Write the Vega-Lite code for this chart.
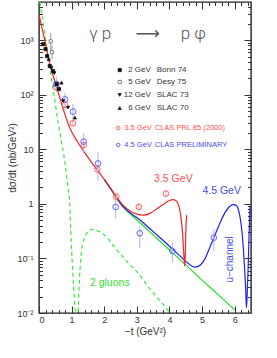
{
"$schema":"https://vega.github.io/schema/vega-lite/v6.json",
"width":212,"height":311,
"autosize":{"type":"none"},
"padding":{"left":39,"top":2,"right":26,"bottom":45},
"background":"white",
"config":{"view":{"stroke":"#222","strokeWidth":1.4},"axis":{"labelFont":"Liberation Sans","titleFont":"Liberation Sans","labelColor":"#333","titleColor":"#333","tickColor":"#333","labelFontSize":9,"titleFontSize":10,"titleFontWeight":"normal","grid":false,"domain":false}},
"datasets":{
"curves":[
{"s":"red","t":0,"v":2950},{"s":"red","t":0.1,"v":1585},{"s":"red","t":0.2,"v":850},{"s":"red","t":0.3,"v":436},{"s":"red","t":0.4,"v":263},{"s":"red","t":0.5,"v":166},{"s":"red","t":0.6,"v":105},{"s":"red","t":0.7,"v":66},{"s":"red","t":0.8,"v":42.7},{"s":"red","t":0.9,"v":28.8},{"s":"red","t":1.0,"v":20.9},{"s":"red","t":1.2,"v":13.2},{"s":"red","t":1.4,"v":8.7},{"s":"red","t":1.6,"v":5.9},{"s":"red","t":1.8,"v":4.07},{"s":"red","t":2.0,"v":2.82},{"s":"red","t":2.2,"v":1.9},{"s":"red","t":2.4,"v":1.28},{"s":"red","t":2.6,"v":0.92},{"s":"red","t":2.8,"v":0.74},{"s":"red","t":3.0,"v":0.65},{"s":"red","t":3.2,"v":0.62},{"s":"red","t":3.4,"v":0.67},{"s":"red","t":3.6,"v":0.8},{"s":"red","t":3.8,"v":0.97},{"s":"red","t":4.0,"v":1.15},{"s":"red","t":4.1,"v":1.2},{"s":"red","t":4.2,"v":1.14},{"s":"red","t":4.28,"v":0.95},{"s":"red","t":4.34,"v":0.65},{"s":"red","t":4.4,"v":0.3},{"s":"red","t":4.44,"v":0.12},{"s":"red","t":4.47,"v":0.072},{"s":"red","t":4.49,"v":0.15},{"s":"red","t":4.51,"v":0.45},{"s":"red","t":4.53,"v":0.62},
{"s":"blue","t":2.0,"v":2.82},{"s":"blue","t":2.2,"v":1.9},{"s":"blue","t":2.4,"v":1.24},{"s":"blue","t":2.6,"v":0.86},{"s":"blue","t":2.8,"v":0.68},{"s":"blue","t":3.0,"v":0.56},{"s":"blue","t":3.2,"v":0.45},{"s":"blue","t":3.4,"v":0.35},{"s":"blue","t":3.6,"v":0.275},{"s":"blue","t":3.8,"v":0.215},{"s":"blue","t":4.0,"v":0.167},{"s":"blue","t":4.2,"v":0.13},{"s":"blue","t":4.4,"v":0.1},{"s":"blue","t":4.6,"v":0.079},{"s":"blue","t":4.78,"v":0.069},{"s":"blue","t":4.95,"v":0.076},{"s":"blue","t":5.08,"v":0.096},{"s":"blue","t":5.2,"v":0.14},{"s":"blue","t":5.36,"v":0.24},{"s":"blue","t":5.5,"v":0.38},{"s":"blue","t":5.64,"v":0.59},{"s":"blue","t":5.8,"v":0.84},{"s":"blue","t":5.95,"v":0.97},{"s":"blue","t":6.05,"v":0.93},{"s":"blue","t":6.12,"v":0.76},{"s":"blue","t":6.18,"v":0.5},{"s":"blue","t":6.23,"v":0.28},{"s":"blue","t":6.27,"v":0.14},{"s":"blue","t":6.31,"v":0.055},{"s":"blue","t":6.34,"v":0.025},{"s":"blue","t":6.36,"v":0.0125},{"s":"blue","t":6.38,"v":0.02},{"s":"blue","t":6.41,"v":0.06},{"s":"blue","t":6.44,"v":0.25},{"s":"blue","t":6.47,"v":0.9},
{"s":"green","t":2.0,"v":2.75},{"s":"green","t":2.2,"v":1.85},{"s":"green","t":2.4,"v":1.2},{"s":"green","t":2.63,"v":0.81},{"s":"green","t":3.0,"v":0.51},{"s":"green","t":3.5,"v":0.27},{"s":"green","t":4.0,"v":0.143},{"s":"green","t":4.5,"v":0.076},{"s":"green","t":5.0,"v":0.04},{"s":"green","t":5.5,"v":0.0215},{"s":"green","t":6.0,"v":0.0114}
],
"dashed":[
{"lobe":1,"t":0.03,"v":5000},{"lobe":1,"t":0.2,"v":1050},{"lobe":1,"t":0.35,"v":263},{"lobe":1,"t":0.5,"v":68},{"lobe":1,"t":0.58,"v":33},{"lobe":1,"t":0.7,"v":12.6},{"lobe":1,"t":0.8,"v":5.5},{"lobe":1,"t":0.88,"v":2.2},{"lobe":1,"t":0.94,"v":1.05},{"lobe":1,"t":0.99,"v":0.19},{"lobe":1,"t":1.04,"v":0.05},{"lobe":1,"t":1.08,"v":0.02},{"lobe":1,"t":1.12,"v":0.01},
{"lobe":2,"t":1.2,"v":0.0105},{"lobe":2,"t":1.24,"v":0.04},{"lobe":2,"t":1.3,"v":0.13},{"lobe":2,"t":1.4,"v":0.24},{"lobe":2,"t":1.5,"v":0.31},{"lobe":2,"t":1.65,"v":0.34},{"lobe":2,"t":1.8,"v":0.32},{"lobe":2,"t":2.0,"v":0.27},{"lobe":2,"t":2.17,"v":0.21},{"lobe":2,"t":2.32,"v":0.16},{"lobe":2,"t":2.5,"v":0.12},{"lobe":2,"t":2.78,"v":0.077},{"lobe":2,"t":3.04,"v":0.054},{"lobe":2,"t":3.3,"v":0.033},{"lobe":2,"t":3.6,"v":0.02},{"lobe":2,"t":3.8,"v":0.0145},{"lobe":2,"t":4.01,"v":0.0102}
],
"clas":[
{"exp":"3.5","t":0.53,"v":138,"lo":120,"hi":158},{"exp":"3.5","t":0.8,"v":65,"lo":57,"hi":74},{"exp":"3.5","t":1.04,"v":30,"lo":26,"hi":34},{"exp":"3.5","t":1.37,"v":12,"lo":10.5,"hi":13.7},{"exp":"3.5","t":1.79,"v":4.3,"lo":3.7,"hi":5.0},{"exp":"3.5","t":2.37,"v":1.35,"lo":1.15,"hi":1.6},{"exp":"3.5","t":3.06,"v":0.88,"lo":0.75,"hi":1.03},{"exp":"3.5","t":3.89,"v":1.54,"lo":1.3,"hi":1.8},
{"exp":"4.5","t":0.53,"v":157,"lo":110,"hi":215},{"exp":"4.5","t":0.8,"v":82,"lo":51,"hi":110},{"exp":"4.5","t":1.04,"v":49,"lo":31,"hi":68},{"exp":"4.5","t":1.37,"v":13.8,"lo":8.4,"hi":19.6},{"exp":"4.5","t":1.81,"v":5.5,"lo":2.6,"hi":9.0},{"exp":"4.5","t":2.35,"v":0.88,"lo":0.55,"hi":1.29},{"exp":"4.5","t":3.09,"v":0.29,"lo":0.157,"hi":0.39},{"exp":"4.5","t":4.09,"v":0.136,"lo":0.083,"hi":0.194},{"exp":"4.5","t":5.36,"v":0.24,"lo":0.136,"hi":0.34}
],
"old":[
{"exp":"Bonn 74","t":0.13,"v":845},{"exp":"Bonn 74","t":0.2,"v":684},{"exp":"Bonn 74","t":0.25,"v":509},{"exp":"Bonn 74","t":0.33,"v":335},{"exp":"Bonn 74","t":0.43,"v":271},{"exp":"Bonn 74","t":0.54,"v":157},{"exp":"Bonn 74","t":0.61,"v":127},
{"exp":"Desy 75","t":0.36,"v":950,"lo":600,"hi":1350},{"exp":"Desy 75","t":0.4,"v":600,"lo":450,"hi":800},
{"exp":"SLAC 73","t":0.38,"v":308},{"exp":"SLAC 73","t":0.47,"v":249},{"exp":"SLAC 73","t":0.74,"v":77},{"exp":"SLAC 73","t":0.89,"v":58},
{"exp":"SLAC 70","t":0.3,"v":450},{"exp":"SLAC 70","t":0.69,"v":166},{"exp":"SLAC 70","t":1.1,"v":38}
],
"legend":[
{"exp":"Bonn 74","t":2.475,"v":283},{"exp":"Desy 75","t":2.475,"v":171},{"exp":"SLAC 73","t":2.475,"v":99},{"exp":"SLAC 70","t":2.475,"v":57}
]
},
"resolve":{"axis":{"x":"independent","y":"independent"}},
"encoding":{
"x":{"field":"t","type":"quantitative","scale":{"domain":[0,6.5],"nice":false,"zero":false},"axis":null},
"y":{"field":"v","type":"quantitative","scale":{"type":"log","domain":[0.01,5000],"nice":false},"axis":null}
},
"layer":[
{"data":{"name":"dashed"},"mark":{"type":"line","color":"#3de83d","strokeWidth":1.2,"strokeDash":[4,3],"interpolate":"monotone","clip":true},
"encoding":{
"x":{"field":"t","type":"quantitative","scale":{"domain":[0,6.5],"nice":false,"zero":false},"axis":{"orient":"bottom","values":[0.2,0.4,0.6,0.8,1.2,1.4,1.6,1.8,2.2,2.4,2.6,2.8,3.2,3.4,3.6,3.8,4.2,4.4,4.6,4.8,5.2,5.4,5.6,5.8,6.2,6.4],"tickSize":-3.5,"labels":false,"title":null}},
"y":{"field":"v","type":"quantitative","scale":{"type":"log","domain":[0.01,5000],"nice":false},"axis":{"orient":"left","values":[0.02,0.03,0.04,0.05,0.06,0.07,0.08,0.09,0.2,0.3,0.4,0.5,0.6,0.7,0.8,0.9,2,3,4,5,6,7,8,9,20,30,40,50,60,70,80,90,200,300,400,500,600,700,800,900,2000,3000,4000],"tickSize":-3.5,"labels":false,"title":null}},
"detail":{"field":"lobe"}}},
{"data":{"name":"curves"},"transform":[{"filter":"datum.s == 'green'"}],"mark":{"type":"line","color":"#22dd22","strokeWidth":1.2,"interpolate":"monotone","clip":true},
"encoding":{
"x":{"field":"t","type":"quantitative","scale":{"domain":[0,6.5],"nice":false,"zero":false},"axis":{"orient":"top","values":[1,2,3,4,5,6],"tickSize":-7,"labels":false,"title":null}},
"y":{"field":"v","type":"quantitative","scale":{"type":"log","domain":[0.01,5000],"nice":false},"axis":{"orient":"right","values":[0.1,1,10,100,1000],"tickSize":-7,"labels":false,"title":null}}}},
{"data":{"name":"curves"},"transform":[{"filter":"datum.s == 'blue'"}],"mark":{"type":"line","color":"#2020ee","strokeWidth":1.2,"interpolate":"monotone","clip":true},
"encoding":{
"x":{"field":"t","type":"quantitative","scale":{"domain":[0,6.5],"nice":false,"zero":false},"axis":{"orient":"top","values":[0.2,0.4,0.6,0.8,1.2,1.4,1.6,1.8,2.2,2.4,2.6,2.8,3.2,3.4,3.6,3.8,4.2,4.4,4.6,4.8,5.2,5.4,5.6,5.8,6.2,6.4],"tickSize":-3.5,"labels":false,"title":null}},
"y":{"field":"v","type":"quantitative","scale":{"type":"log","domain":[0.01,5000],"nice":false},"axis":{"orient":"right","values":[0.02,0.03,0.04,0.05,0.06,0.07,0.08,0.09,0.2,0.3,0.4,0.5,0.6,0.7,0.8,0.9,2,3,4,5,6,7,8,9,20,30,40,50,60,70,80,90,200,300,400,500,600,700,800,900,2000,3000,4000],"tickSize":-3.5,"labels":false,"title":null}}}},
{"data":{"name":"curves"},"transform":[{"filter":"datum.s == 'red'"}],"mark":{"type":"line","color":"#f02525","strokeWidth":1.2,"interpolate":"monotone","clip":true},
"encoding":{
"x":{"field":"t","type":"quantitative","scale":{"domain":[0,6.5],"nice":false,"zero":false},"axis":{"orient":"bottom","values":[0,1,2,3,4,5,6],"tickSize":-7,"labelPadding":9,"format":"d","title":"−t (GeV²)","titlePadding":2}},
"y":{"field":"v","type":"quantitative","scale":{"type":"log","domain":[0.01,5000],"nice":false},"axis":{"orient":"left","values":[0.01,0.1,1,10,100,1000],"tickSize":-7,"labelPadding":13,"labelExpr":"datum.value > 999 ? '10³' : datum.value > 99 ? '10²' : datum.value > 9 ? '10' : datum.value > 0.9 ? '1' : datum.value > 0.09 ? '10⁻¹' : '10⁻²'","title":"dσ/dt (nb/GeV²)","titlePadding":-1}}}},
{"data":{"name":"clas"},"transform":[{"filter":"datum.exp == '3.5'"}],"mark":{"type":"rule","color":"#ffb0b0","strokeWidth":1},
"encoding":{"y":{"field":"lo","type":"quantitative","scale":{"type":"log","domain":[0.01,5000],"nice":false},"axis":null},"y2":{"field":"hi"}}},
{"data":{"name":"clas"},"transform":[{"filter":"datum.exp == '4.5'"}],"mark":{"type":"rule","color":"#b0b0ff","strokeWidth":1},
"encoding":{"y":{"field":"lo","type":"quantitative","scale":{"type":"log","domain":[0.01,5000],"nice":false},"axis":null},"y2":{"field":"hi"}}},
{"data":{"name":"old"},"mark":{"type":"rule","color":"#999","strokeWidth":1},
"encoding":{"y":{"field":"lo","type":"quantitative","scale":{"type":"log","domain":[0.01,5000],"nice":false},"axis":null},"y2":{"field":"hi"}}},
{"data":{"name":"clas"},"transform":[{"filter":"datum.exp == '3.5'"}],"mark":{"type":"point","shape":"circle","filled":false,"color":"#ff6060","size":32,"strokeWidth":1,"opacity":1}},
{"data":{"name":"clas"},"transform":[{"filter":"datum.exp == '4.5'"}],"mark":{"type":"point","shape":"circle","filled":false,"color":"#6060ff","size":32,"strokeWidth":1,"opacity":1}},
{"data":{"name":"old"},"mark":{"type":"point","size":10,"strokeWidth":0.8,"opacity":1,"fillOpacity":1},
"encoding":{
"shape":{"field":"exp","type":"nominal","scale":{"domain":["Bonn 74","Desy 75","SLAC 73","SLAC 70"],"range":["square","square","triangle-down","triangle-up"]},"legend":null},
"fill":{"field":"exp","type":"nominal","scale":{"domain":["Bonn 74","Desy 75","SLAC 73","SLAC 70"],"range":["#111","#fff","#111","#111"]},"legend":null},
"stroke":{"field":"exp","type":"nominal","scale":{"domain":["Bonn 74","Desy 75","SLAC 73","SLAC 70"],"range":["#111","#666","#111","#111"]},"legend":null}}},
{"data":{"name":"legend"},"mark":{"type":"point","size":10,"strokeWidth":0.8,"opacity":1,"fillOpacity":1},
"encoding":{
"shape":{"field":"exp","type":"nominal","scale":{"domain":["Bonn 74","Desy 75","SLAC 73","SLAC 70"],"range":["square","square","triangle-down","triangle-up"]},"legend":null},
"fill":{"field":"exp","type":"nominal","scale":{"domain":["Bonn 74","Desy 75","SLAC 73","SLAC 70"],"range":["#111","#fff","#111","#111"]},"legend":null},
"stroke":{"field":"exp","type":"nominal","scale":{"domain":["Bonn 74","Desy 75","SLAC 73","SLAC 70"],"range":["#111","#666","#111","#111"]},"legend":null}}},
{"data":{"values":[{"t":2.43,"v":24.5}]},"mark":{"type":"point","shape":"circle","filled":false,"color":"#ff6060","size":12,"strokeWidth":1,"opacity":1}},
{"data":{"values":[{"t":2.43,"v":12}]},"mark":{"type":"point","shape":"circle","filled":false,"color":"#6060ff","size":12,"strokeWidth":1,"opacity":1}},
{"data":{"values":[{"t":1.88,"v":1290,"text":"γ p"},{"t":4.73,"v":1290,"text":"p φ"}]},"mark":{"type":"text","font":"Roboto","fontWeight":300,"fontSize":17,"color":"#555","align":"center","baseline":"middle"},"encoding":{"text":{"field":"text"}}},
{"data":{"values":[{"t":3.33,"v":1290,"text":"⟶"}]},"mark":{"type":"text","font":"DejaVu Sans","fontSize":17,"color":"#555","align":"center","baseline":"middle"},"encoding":{"text":{"field":"text"}}},
{"data":{"values":[{"t":3.43,"v":283,"text":"2 GeV"},{"t":3.43,"v":171,"text":"5 GeV"},{"t":3.43,"v":99,"text":"12 GeV"},{"t":3.43,"v":57,"text":"6 GeV"}]},"mark":{"type":"text","font":"Liberation Sans","fontSize":8,"color":"#333","align":"right","baseline":"middle"},"encoding":{"text":{"field":"text"}}},
{"data":{"values":[{"t":3.61,"v":283,"text":"Bonn 74"},{"t":3.61,"v":171,"text":"Desy 75"},{"t":3.61,"v":99,"text":"SLAC 73"},{"t":3.61,"v":57,"text":"SLAC 70"}]},"mark":{"type":"text","font":"Liberation Sans","fontSize":8,"color":"#333","align":"left","baseline":"middle"},"encoding":{"text":{"field":"text"}}},
{"data":{"values":[{"t":3.46,"v":24.5,"text":"3.5 GeV"}]},"mark":{"type":"text","font":"Liberation Sans","fontSize":7.5,"color":"#ff5050","align":"right","baseline":"middle"},"encoding":{"text":{"field":"text"}}},
{"data":{"values":[{"t":3.55,"v":24.5,"text":"CLAS PRL 85 (2000)"}]},"mark":{"type":"text","font":"Liberation Sans","fontSize":7.5,"color":"#ff5050","align":"left","baseline":"middle"},"encoding":{"text":{"field":"text"}}},
{"data":{"values":[{"t":3.46,"v":12,"text":"4.5 GeV"}]},"mark":{"type":"text","font":"Liberation Sans","fontSize":7.5,"color":"#4a4aee","align":"right","baseline":"middle"},"encoding":{"text":{"field":"text"}}},
{"data":{"values":[{"t":3.55,"v":12,"text":"CLAS PRELIMINARY"}]},"mark":{"type":"text","font":"Liberation Sans","fontSize":7.5,"color":"#4a4aee","align":"left","baseline":"middle"},"encoding":{"text":{"field":"text"}}},
{"data":{"values":[{"t":4.12,"v":2.9,"text":"3.5 GeV"}]},"mark":{"type":"text","font":"Liberation Sans","fontSize":10.5,"color":"#ff5050","align":"center","baseline":"middle"},"encoding":{"text":{"field":"text"}}},
{"data":{"values":[{"t":5.6,"v":1.75,"text":"4.5 GeV"}]},"mark":{"type":"text","font":"Liberation Sans","fontSize":10.5,"color":"#4a4aee","align":"center","baseline":"middle"},"encoding":{"text":{"field":"text"}}},
{"data":{"values":[{"t":2.17,"v":0.0349,"text":"2 gluons"}]},"mark":{"type":"text","font":"Liberation Sans","fontSize":10.5,"color":"#33dd33","align":"center","baseline":"middle"},"encoding":{"text":{"field":"text"}}},
{"data":{"values":[{"t":5.85,"v":0.096,"text":"u−channel"}]},"mark":{"type":"text","font":"Liberation Sans","fontSize":10,"color":"#4a4aee","align":"center","baseline":"middle","angle":270},"encoding":{"text":{"field":"text"}}}
]
}
